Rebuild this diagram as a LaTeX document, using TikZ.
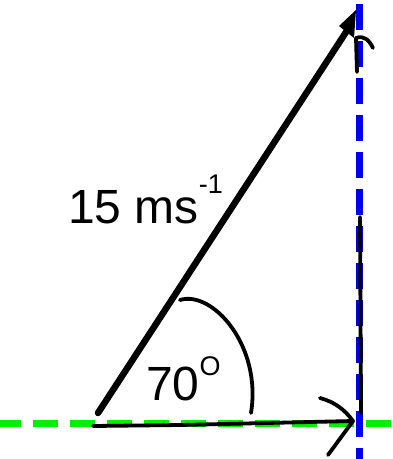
\documentclass[tikz,border=0pt]{standalone}
\usepackage{fontspec}
\setmainfont{Liberation Sans}
\definecolor{dgreen}{RGB}{0,240,0}
\definecolor{dblue}{RGB}{0,0,240}
\begin{document}
\begin{tikzpicture}[x=1pt,y=-1pt,
  axisline/.style={line width=7pt},
  vecline/.style={line width=6.5pt, line cap=round},
  hand/.style={line width=3.8pt, line cap=round, line join=round},
  bigtext/.style={inner sep=0pt, anchor=base west, font=\fontsize{48}{56}\selectfont}]
\useasboundingbox (0,0) rectangle (393,459);
% coordinates
\coordinate (gL) at (0,423);
\coordinate (gR) at (393,423);
\coordinate (bT) at (359,0);
\coordinate (bB) at (359,459);
\coordinate (O) at (98,413);
\coordinate (T) at (350,26);
\coordinate (hS) at (93,426);
\coordinate (hM) at (180,425);
\coordinate (hE) at (353,421);
\coordinate (vB) at (361,413);
\coordinate (vT) at (360,217);
\coordinate (vT2) at (357,72);
\coordinate (vT3) at (356,38);
\coordinate (aS) at (180,300);
\coordinate (aE) at (251,413);
% dashed axes
\draw[axisline, dgreen, dash pattern=on 25pt off 12pt, dash phase=4pt] (gL) -- (gR);
\draw[axisline, dblue, dash pattern=on 26pt off 11pt, dash phase=33pt] (bT) -- (bB);
% main vector
\draw[vecline] (O) -- (T);
\fill (339,26) -- (356,10) -- (354,38) -- cycle;
% horizontal component
\draw[hand] (hS) -- (hM) -- (hE);
\draw[hand] (320,398) .. controls (335,402) and (345,410) .. (hE) -- (328,455);
% vertical component
\draw[hand] (vB) -- (vT);
\draw[hand] (vT2) -- (vT3);
\draw[hand] (vT3) .. controls (364,35) and (369,40) .. (373,48);
% angle arc
\draw[hand] (aS) .. controls (212,290) and (262,345) .. (aE);
% labels
\node[bigtext] (speed) at (68,223) {15 ms\raisebox{30pt}{\fontsize{27}{27}\selectfont -1}};
\node[bigtext] (angle) at (146,400) {70\raisebox{25pt}{\fontsize{27}{27}\selectfont O}};
\end{tikzpicture}
\end{document}
